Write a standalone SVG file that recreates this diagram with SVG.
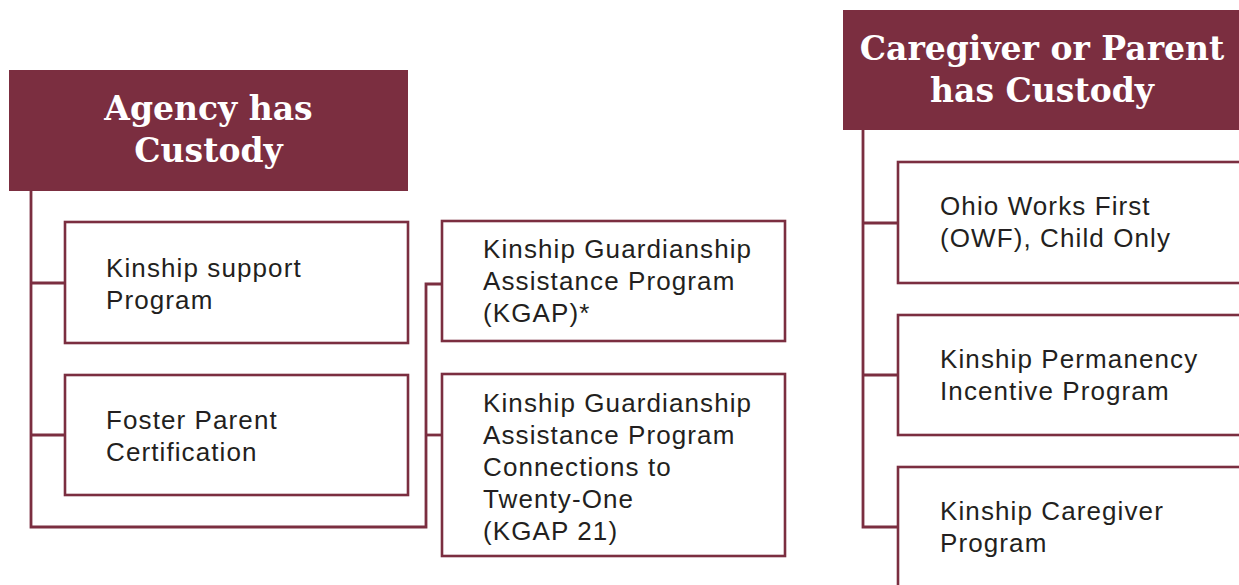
<svg xmlns="http://www.w3.org/2000/svg" width="1239" height="585" viewBox="0 0 1239 585">
<style>
.hdr{fill:#7b2e40}
.hdr-t{font-family:"DejaVu Serif","Liberation Serif",serif;font-weight:bold;font-size:33px;fill:#ffffff;text-anchor:middle}
.box{fill:#ffffff;stroke:#7b2e40;stroke-width:2.6}
.t{font-family:"Liberation Sans","Noto Sans",Arial,sans-serif;font-size:26px;fill:#231f20;letter-spacing:1.1px}
.con{fill:none;stroke:#7b2e40;stroke-width:2.8}
</style>
<rect width="1239" height="585" fill="#ffffff"/>
<g id="connectors">
<path class="con" d="M31,190 V527 H426 V284 H442"/>
<path class="con" d="M31,283 H65"/>
<path class="con" d="M31,435 H65"/>
<path class="con" d="M426,435 H442"/>
<path class="con" d="M863,130 V527 H898"/>
<path class="con" d="M863,223 H898"/>
<path class="con" d="M863,375 H898"/>
</g>
<g id="agency">
<rect class="hdr" x="9" y="70" width="399" height="121"/>
<text class="hdr-t"><tspan x="208.5" y="120">Agency has</tspan><tspan x="208.5" y="162">Custody</tspan></text>
</g>
<g id="kinship-support">
<rect class="box" x="65" y="222" width="343" height="121"/>
<text class="t"><tspan x="106" y="277">Kinship support</tspan><tspan x="106" y="309">Program</tspan></text>
</g>
<g id="foster">
<rect class="box" x="65" y="375" width="343" height="120"/>
<text class="t"><tspan x="106" y="429">Foster Parent</tspan><tspan x="106" y="461">Certification</tspan></text>
</g>
<g id="kgap">
<rect class="box" x="442" y="221" width="343" height="120"/>
<text class="t"><tspan x="483" y="258">Kinship Guardianship</tspan><tspan x="483" y="290">Assistance Program</tspan><tspan x="483" y="322">(KGAP)*</tspan></text>
</g>
<g id="kgap21">
<rect class="box" x="442" y="374" width="343" height="182"/>
<text class="t"><tspan x="483" y="412">Kinship Guardianship</tspan><tspan x="483" y="444">Assistance Program</tspan><tspan x="483" y="476">Connections to</tspan><tspan x="483" y="508">Twenty-One</tspan><tspan x="483" y="540">(KGAP 21)</tspan></text>
</g>
<g id="caregiver">
<rect class="hdr" x="843" y="10" width="420" height="120"/>
<text class="hdr-t"><tspan x="1042" y="60">Caregiver or Parent</tspan><tspan x="1042" y="102">has Custody</tspan></text>
</g>
<g id="owf">
<rect class="box" x="898" y="162" width="360" height="121"/>
<text class="t"><tspan x="940" y="215">Ohio Works First</tspan><tspan x="940" y="247">(OWF), Child Only</tspan></text>
</g>
<g id="kpip">
<rect class="box" x="898" y="315" width="360" height="120"/>
<text class="t"><tspan x="940" y="368">Kinship Permanency</tspan><tspan x="940" y="400">Incentive Program</tspan></text>
</g>
<g id="kcp">
<rect class="box" x="898" y="467" width="360" height="140"/>
<text class="t"><tspan x="940" y="520">Kinship Caregiver</tspan><tspan x="940" y="552">Program</tspan></text>
</g>
</svg>
